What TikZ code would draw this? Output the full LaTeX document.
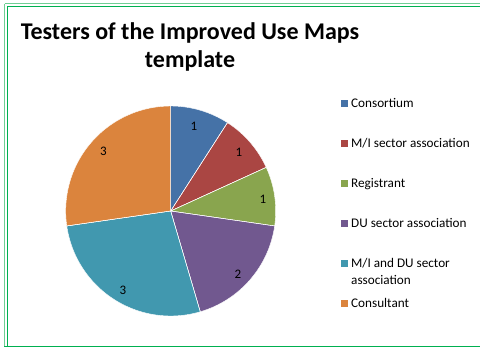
\documentclass[tikz,border=0pt]{standalone}
\usepackage{fontspec}
\setmainfont{Carlito}
\definecolor{cBlue}{HTML}{4572A7}
\definecolor{cRed}{HTML}{AA4643}
\definecolor{cGreen}{HTML}{89A54E}
\definecolor{cPurple}{HTML}{71588F}
\definecolor{cTeal}{HTML}{4198AF}
\definecolor{cOrange}{HTML}{DB843D}
\definecolor{frameGreen}{HTML}{00B050}
\definecolor{frameLight}{HTML}{6FCF94}
\begin{document}
\begin{tikzpicture}[x=1pt,y=-1pt,
  slice/.style={fill=#1,draw=white,line width=0.4pt,line join=round},
  lbl/.style={font=\fontsize{13}{15}\selectfont,text=black,inner sep=0pt},
  legtext/.style={font=\fontsize{13.2}{15}\selectfont,text=black,anchor=base west,inner sep=0pt,align=left},
  legbox/.style={fill=#1,draw=none,minimum size=6.5pt,inner sep=0pt},
  titlestyle/.style={font=\bfseries\fontsize{24}{28}\selectfont,anchor=base,inner sep=0pt}]
\useasboundingbox (0,0) rectangle (480,349);
% frame
\draw[frameLight,line width=1pt] (4.5,3.5) -- (482,3.5);
\draw[frameLight,line width=1pt] (4.5,3.5) -- (4.5,347);
\draw[frameGreen,line width=1pt] (7,6) -- (482,6);
\draw[frameGreen,line width=1pt] (7,6) -- (7,346.5);
\draw[frameGreen,line width=1.2pt] (4,346.5) -- (482,346.5);
% title
\node[titlestyle] (t1) at (190,39.5) {Testers of the Improved Use Maps};
\node[titlestyle] (t2) at (190,67.5) {template};
% pie
\coordinate (c) at (170.7,211);
\def\R{105}
\fill[slice=cBlue]   (c) -- ++(-90:\R) arc[start angle=-90, end angle=-57.27, radius=\R] -- cycle;
\fill[slice=cRed]    (c) -- ++(-57.27:\R) arc[start angle=-57.27, end angle=-24.55, radius=\R] -- cycle;
\fill[slice=cGreen]  (c) -- ++(-24.55:\R) arc[start angle=-24.55, end angle=8.18, radius=\R] -- cycle;
\fill[slice=cPurple] (c) -- ++(8.18:\R) arc[start angle=8.18, end angle=73.64, radius=\R] -- cycle;
\fill[slice=cTeal]   (c) -- ++(73.64:\R) arc[start angle=73.64, end angle=171.82, radius=\R] -- cycle;
\fill[slice=cOrange] (c) -- ++(171.82:\R) arc[start angle=171.82, end angle=270, radius=\R] -- cycle;
\draw[white,line width=0.4pt] (c) -- ++(-90:\R) (c) -- ++(-57.27:\R) (c) -- ++(-24.55:\R) (c) -- ++(8.18:\R) (c) -- ++(73.64:\R) (c) -- ++(171.82:\R);
% labels
\node[lbl] (l1) at (194,126) {1};
\node[lbl] (l2) at (239,152) {1};
\node[lbl] (l3) at (263,199) {1};
\node[lbl] (l4) at (238,274) {2};
\node[lbl] (l5) at (123,290) {3};
\node[lbl] (l6) at (103.5,151) {3};
% legend
\node[legbox=cBlue]   (b1) at (344.3,103.7) {};
\node[legbox=cRed]    (b2) at (344.3,143.7) {};
\node[legbox=cGreen]  (b3) at (344.3,183.7) {};
\node[legbox=cPurple] (b4) at (344.3,223.7) {};
\node[legbox=cTeal]   (b5) at (344.3,263.7) {};
\node[legbox=cOrange] (b6) at (344.3,303.7) {};
\node[legtext] (g1) at (351,107.5) {Consortium};
\node[legtext] (g2) at (351,147.5) {M/I sector association};
\node[legtext] (g3) at (351,187.5) {Registrant};
\node[legtext] (g4) at (351,227.5) {DU sector association};
\node[legtext] (g5) at (351,267.5) {M/I and DU sector};
\node[legtext] (g5b) at (351,284) {association};
\node[legtext] (g6) at (351,307.5) {Consultant};
\end{tikzpicture}
\end{document}
